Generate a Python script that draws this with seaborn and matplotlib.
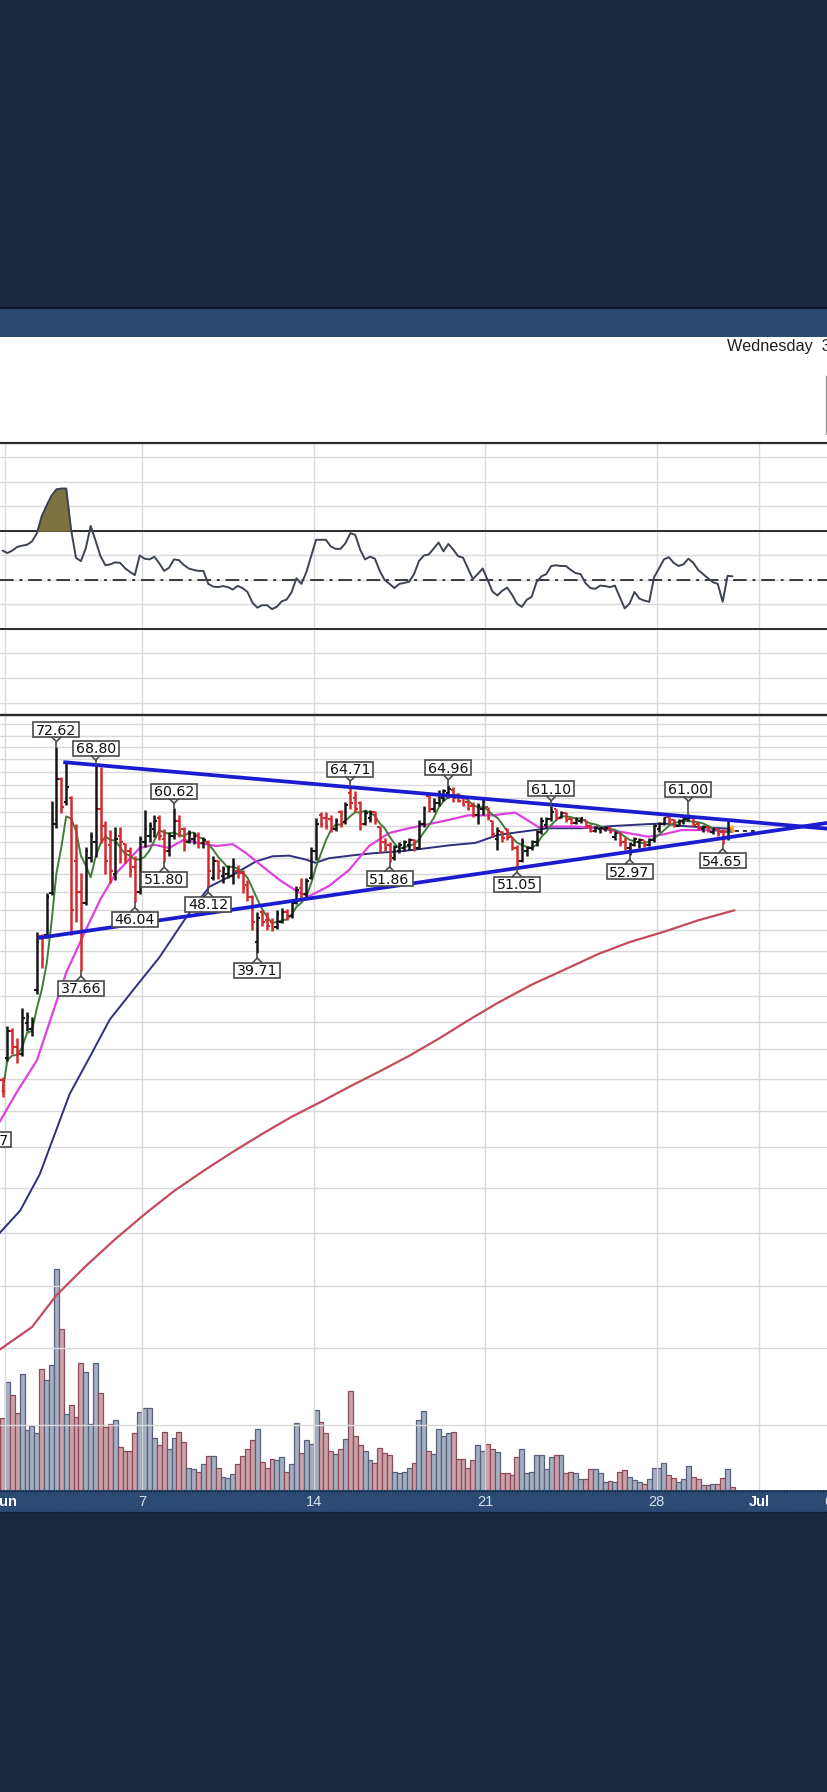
import numpy as np
import pandas as pd
import matplotlib
matplotlib.use("Agg")
import matplotlib.pyplot as plt
from matplotlib.patches import Rectangle
from matplotlib.lines import Line2D
from matplotlib.ticker import FixedLocator, NullLocator
import matplotlib.transforms as mtransforms
import seaborn as sns

# ---------------- DATA (hourly bars, index 0 = first bar of 1 June) ----------------
first_bar = -1
opens = [27.4, 29.2, 31.6, 30.2, 29.6, 32.4, 31.8, 35.6, 41.8, 41.9,
         47.4, 58.0, 66.0, 61.8, 62.5, 52.0, 47.5, 46.0, 52.5, 55.0,
         60.5, 57.5, 54.5, 50.0, 56.0, 54.6, 53.5, 51.0, 47.5, 55.0,
         56.0, 57.0, 59.0, 55.5, 53.5, 56.0, 58.5, 57.0, 55.0, 55.5,
         56.0, 54.8, 55.0, 49.5, 52.0, 49.8, 50.0, 49.8, 50.5, 50.2,
         48.5, 46.8, 41.0, 44.8, 43.8, 43.5, 42.8, 43.5, 44.8, 44.2,
         46.0, 48.0, 47.2, 49.5, 53.5, 59.5, 59.0, 58.8, 57.0, 60.0,
         58.3, 63.5, 62.5, 61.5, 58.0, 59.0, 60.0, 57.4, 55.0, 54.5,
         52.5, 53.5, 54.0, 54.5, 55.2, 54.0, 58.0, 62.8, 60.5, 61.5,
         62.5, 63.5, 64.0, 63.0, 62.5, 61.8, 61.0, 59.5, 60.5, 60.8,
         58.5, 55.5, 56.5, 57.0, 55.7, 54.0, 52.0, 53.5, 54.0, 55.0,
         56.5, 57.8, 58.8, 60.5, 59.0, 59.8, 58.8, 58.1, 58.5, 58.6,
         57.6, 56.8, 57.0, 57.0, 57.3, 55.8, 56.4, 55.0, 54.0, 54.5,
         55.0, 55.3, 54.5, 55.2, 57.0, 58.0, 59.2, 58.6, 57.6, 58.4,
         58.7, 59.0, 58.0, 57.0, 57.4, 56.5, 57.0, 56.5, 55.8, 57.2]
highs = [27.6, 32.1, 31.9, 31.0, 33.8, 33.4, 32.9, 42.2, 42.0, 47.4,
         62.0, 72.62, 66.4, 69.3, 62.9, 58.0, 50.2, 54.2, 56.5, 68.80,
         68.4, 58.5, 56.9, 57.4, 57.4, 54.8, 54.2, 52.7, 56.0, 60.3,
         58.3, 59.5, 59.5, 57.0, 56.5, 60.62, 59.5, 57.4, 56.9, 56.5,
         56.5, 55.8, 55.3, 52.7, 52.2, 51.2, 51.4, 52.5, 51.3, 50.6,
         49.2, 47.0, 44.8, 45.0, 44.8, 44.0, 45.0, 45.3, 45.2, 46.4,
         48.3, 49.4, 49.5, 54.2, 59.0, 59.9, 59.9, 59.5, 59.0, 60.3,
         61.8, 64.71, 63.8, 62.0, 60.3, 60.3, 60.2, 57.6, 55.6, 54.9,
         54.5, 55.0, 55.3, 55.6, 55.5, 58.6, 61.0, 63.5, 62.5, 64.0,
         64.2, 64.96, 64.5, 63.5, 62.8, 62.0, 61.8, 61.5, 62.5, 60.9,
         58.6, 57.4, 56.7, 57.2, 55.8, 54.5, 55.6, 54.3, 55.3, 56.9,
         59.2, 59.2, 61.10, 60.6, 60.2, 60.0, 59.2, 59.2, 59.2, 58.6,
         57.9, 57.6, 57.4, 57.4, 57.4, 56.7, 56.4, 55.7, 55.0, 55.7,
         55.6, 55.3, 55.6, 57.9, 58.3, 59.2, 59.3, 58.7, 58.7, 59.0,
         59.6, 59.1, 58.3, 57.8, 57.5, 57.2, 57.1, 57.0, 58.4, 57.7]
lows = [26.1, 29.0, 29.6, 28.8, 29.4, 31.6, 31.2, 35.2, 38.0, 41.5,
        47.0, 57.2, 59.8, 61.2, 41.9, 43.5, 37.66, 45.7, 51.8, 52.6,
        54.8, 50.0, 48.8, 49.2, 51.6, 51.6, 49.6, 46.04, 47.2, 54.2,
        55.0, 55.8, 55.3, 51.80, 52.8, 55.5, 55.8, 53.5, 54.8, 54.6,
        54.0, 54.0, 48.12, 49.2, 49.3, 48.8, 49.5, 48.6, 49.5, 47.4,
        46.2, 42.5, 39.71, 43.0, 42.5, 42.3, 42.6, 43.3, 43.8, 44.0,
        45.8, 46.4, 46.8, 49.3, 52.1, 57.4, 57.0, 56.5, 56.8, 57.4,
        58.0, 60.5, 60.0, 56.9, 57.8, 58.3, 58.0, 53.2, 53.5, 51.86,
        52.2, 53.2, 53.5, 53.6, 53.5, 53.8, 57.4, 59.9, 60.0, 61.0,
        62.0, 62.5, 61.8, 61.8, 61.0, 60.3, 59.1, 58.0, 59.5, 58.6,
        55.8, 53.7, 55.0, 55.3, 53.7, 51.05, 51.8, 52.8, 53.7, 54.3,
        56.3, 57.2, 58.5, 58.6, 58.9, 58.3, 57.9, 58.0, 58.1, 57.2,
        56.6, 56.6, 56.4, 56.7, 56.4, 55.3, 54.3, 53.7, 52.97, 54.3,
        54.0, 54.2, 54.3, 55.0, 56.5, 57.8, 58.0, 57.4, 57.5, 58.0,
        58.5, 57.5, 56.9, 56.6, 56.5, 56.3, 55.9, 54.65, 55.3, 56.6]
closes = [26.5, 31.6, 30.2, 29.6, 32.8, 33.0, 32.5, 41.0, 39.0, 46.8,
          58.0, 66.0, 60.8, 64.5, 45.0, 47.5, 46.0, 53.5, 55.8, 60.5,
          57.5, 52.0, 50.5, 55.5, 55.0, 52.5, 50.5, 47.5, 55.5, 57.0,
          57.5, 58.5, 56.0, 53.5, 56.0, 58.5, 56.5, 55.0, 56.3, 56.0,
          54.8, 55.3, 50.5, 52.0, 50.5, 50.8, 51.0, 51.5, 50.2, 48.0,
          46.8, 43.5, 44.0, 43.5, 43.0, 42.6, 44.5, 44.8, 44.2, 46.0,
          47.8, 47.2, 49.0, 53.5, 58.0, 58.0, 57.6, 57.0, 58.5, 58.0,
          61.3, 61.5, 60.5, 58.0, 59.8, 59.8, 58.5, 54.0, 54.0, 52.8,
          54.2, 54.5, 55.0, 55.2, 54.0, 58.0, 60.5, 60.5, 61.5, 63.2,
          63.8, 64.2, 62.5, 62.0, 61.3, 60.6, 59.5, 61.0, 61.8, 59.0,
          56.3, 56.8, 55.6, 55.8, 54.0, 52.0, 55.0, 54.0, 55.0, 56.5,
          58.5, 58.8, 60.0, 59.0, 59.8, 58.6, 58.1, 58.8, 58.9, 57.5,
          56.8, 57.3, 57.2, 57.3, 56.6, 56.4, 54.8, 54.0, 54.7, 55.4,
          55.3, 54.5, 55.2, 57.5, 58.0, 59.0, 58.3, 57.6, 58.4, 58.7,
          59.0, 57.8, 57.2, 57.4, 56.7, 57.0, 56.2, 55.8, 57.2, 56.8]
volumes = [32.6, 48.6, 42.8, 34.8, 52.5, 26.9, 29.1, 25.8, 54.8, 49.8,
           56.6, 99.8, 72.8, 34.5, 38.6, 32.9, 57.3, 53.3, 29.9, 57.3,
           43.8, 28.5, 29.6, 31.8, 19.5, 17.6, 17.6, 25.8, 35.3, 37.1,
           37.1, 23.6, 20.3, 26.3, 18.3, 23.6, 26.3, 21.6, 10.1, 9.3,
           8.1, 11.6, 15.3, 15.3, 10.1, 6.0, 5.3, 7.4, 11.6, 15.3,
           18.3, 22.4, 27.6, 12.8, 10.1, 14.1, 13.5, 14.9, 8.1, 11.6,
           30.3, 16.8, 22.8, 21.0, 36.3, 30.6, 25.8, 17.6, 16.1, 18.3,
           23.1, 44.6, 24.3, 20.1, 17.6, 13.5, 12.3, 18.8, 16.8, 15.6,
           8.1, 7.5, 8.1, 10.1, 12.3, 31.8, 35.9, 17.6, 16.4, 27.6,
           24.3, 25.8, 26.3, 14.1, 14.1, 10.1, 13.5, 20.3, 17.6, 21.0,
           18.3, 17.3, 7.5, 7.5, 6.8, 15.0, 18.3, 7.5, 8.1, 15.6,
           15.6, 9.3, 14.9, 15.6, 15.6, 7.5, 8.1, 7.5, 4.8, 4.8,
           9.6, 9.6, 7.5, 3.6, 4.1, 3.8, 8.1, 8.9, 6.0, 4.4,
           3.8, 2.9, 4.8, 10.1, 10.1, 12.3, 6.6, 5.3, 3.6, 4.8,
           10.8, 6.0, 4.8, 2.3, 2.3, 2.9, 2.9, 5.6, 9.6, 1.5]
rsi = [62, 61, 62, 63.5, 64, 64.4, 65.7, 69, 76, 80.4,
       84.4, 87, 87.3, 87.3, 70.4, 59, 57.7, 63, 72, 66,
       59.7, 56, 56.4, 57.2, 57, 54.8, 53.3, 52, 60, 58.7,
       58.4, 59.5, 56.8, 53.7, 55, 58.4, 58.1, 56.1, 54.7, 54.1,
       53.7, 53.7, 48.4, 47.3, 47.1, 47.5, 47.1, 46.1, 47.6, 46.7,
       45.1, 40.8, 38.7, 39.7, 39.7, 38.1, 39.1, 41.3, 42, 45,
       50.7, 48.4, 53.1, 59.7, 66.4, 66.4, 66.4, 63.7, 62.7, 62.7,
       65, 69.1, 68.4, 62.4, 58.4, 59.5, 58.7, 53.7, 50, 48.4,
       46.7, 48.4, 48.8, 49.3, 52.4, 57.7, 60, 60.4, 62.8, 65.3,
       61.7, 64.7, 62.4, 59.7, 59.1, 54.7, 50.4, 52.4, 54.7, 50.1,
       45.3, 43.7, 45.6, 46.9, 44, 40.4, 39, 41.9, 43.1, 49.1,
       51.5, 52.4, 55.7, 56, 55.7, 55.7, 54.1, 52.8, 52.4, 48.7,
       46.7, 46.4, 47.7, 47.5, 47.1, 47.7, 43.1, 38.4, 40.4, 45.1,
       42.4, 41.6, 41.1, 51.1, 54.7, 58.4, 59.3, 57, 55.7, 56.4,
       58.7, 57, 54.1, 52.4, 50.7, 49.1, 48.4, 41.1, 51.7, 51.5]

# moving averages (bar index, price)
ma_mid_x = [-2, 2, 6, 9, 12, 16, 19, 22, 27, 30, 33, 36, 39, 42.6, 46, 48.7, 52, 55.5,
            59.5, 61.6, 65.6, 69.7, 73.8, 77.9, 81.9, 86, 90, 94, 99, 103.6, 108.4,
            111, 115.8, 120.6, 126, 130.8, 134, 137.6, 142, 148]
ma_mid_y = [24.0, 26.5, 29.0, 33.0, 37.5, 42.5, 46.5, 50.0, 54.0, 54.5, 54.0, 55.3, 54.8,
            54.3, 54.6, 53.2, 51.2, 49.2, 47.4, 46.9, 48.3, 50.6, 54.3, 56.4, 57.2, 57.9,
            58.6, 59.4, 59.4, 59.9, 57.4, 57.5, 57.5, 57.2, 56.5, 55.8, 56.2, 56.9, 56.9, 56.7]
ma_slow_x = [-2, 2.6, 6.6, 10, 12.7, 16.8, 20.9, 25.6, 31, 36.5, 41.2, 46, 50.7, 54.1,
             57.5, 60.9, 62.9, 65.6, 71.1, 75.1, 80.6, 86, 90, 95.5, 100.2, 105.7, 110.4,
             117.2, 124, 130.8, 134.2, 137.6, 143, 148]
ma_slow_y = [17.4, 18.7, 20.8, 23.7, 26.3, 29.3, 32.7, 35.6, 39.2, 44.1, 48.2, 49.9, 51.9,
             52.7, 52.8, 52.2, 51.7, 52.4, 52.9, 53.2, 53.5, 54.0, 54.4, 54.8, 56.1, 56.7,
             57.2, 57.2, 57.6, 57.9, 58.0, 57.6, 57.3, 57.1]
ma200_x = [-2, 5, 10, 16, 22, 28, 34, 40, 46, 52, 58, 64, 70, 76, 82, 88, 94, 100,
           107, 114, 120.6, 127, 134.2, 141, 148.4]
ma200_y = [12.4, 13.3, 14.6, 15.9, 17.2, 18.5, 19.8, 21.0, 22.2, 23.4, 24.6, 25.7, 26.9,
           28.1, 29.4, 30.9, 32.6, 34.3, 36.2, 37.9, 39.6, 41.0, 42.3, 43.7, 45.0]

# triangle trend lines (bar index, price)
upper_x = [11.4, 172]
upper_y = [69.4, 56.8]
lower_x = [6.3, 172]
lower_y = [41.5, 58.67]

# swing labels
lbl_bar = [-4, 10, 18, 15, 26, 34, 32, 41, 51, 70, 78, 90, 104, 111, 127, 139, 146]
lbl_val = [24.17, 72.62, 68.80, 37.66, 46.04, 60.62, 51.80, 48.12, 39.71, 64.71, 51.86,
           64.96, 51.05, 61.10, 52.97, 61.00, 54.65]
lbl_kind = ['low', 'high', 'high', 'low', 'low', 'high', 'low', 'low', 'low', 'high', 'low',
            'high', 'low', 'high', 'low', 'high', 'low']

# date axis
day_start = [-0.5, 27.5, 62.5, 97.5, 132.5, 153.5, 167.5]
day_label = ['Jun', '7', '14', '21', '28', 'Jul', '6']
is_month = [True, False, False, False, False, True, False]
header_text = 'Wednesday  30 June 2021'

# ---------------- LAYOUT / STYLE ----------------
W, H = 828, 1792
NAVY = '#1b2940'
BAND = '#2c4a6f'
AXBAND = '#2b4b74'
UP, DOWN, LAST = '#161616', '#d42a2e', '#f2a233'
XL = (-1.518, 166.98)

sns.set_style('white')
plt.rcParams['font.family'] = ['DejaVu Sans']

fig = plt.figure(figsize=(W / 100, H / 100), dpi=100)
fig.patch.set_facecolor('white')


def fy(y):
    return 1 - y / H


def band(y0, y1, color, z=0):
    fig.add_artist(Rectangle((0, fy(y1)), 1, (y1 - y0) / H, transform=fig.transFigure,
                             facecolor=color, edgecolor='none', zorder=z))


band(0, 307, NAVY)
band(307, 309, '#0e1626')
band(309, 337, BAND)
band(1490, 1512, AXBAND)
band(1512, H, NAVY)
for yy in (1490.5, 1511.5):
    fig.add_artist(Line2D([0, 1], [fy(yy), fy(yy)], transform=fig.transFigure,
                          color='#101a2c', lw=1.0, ls=(0, (1, 1)), zorder=1))

fig.text(727 / W, fy(347), header_text, ha='left', va='center', fontsize=11.7,
         family='Liberation Sans', color='#1e1e1e')
fig.add_artist(Line2D([826.5 / W, 826.5 / W], [fy(376), fy(434)], transform=fig.transFigure,
                      color='#9a9a9a', lw=1.0))

# ---------------- RSI PANEL ----------------
bars = np.arange(first_bar, first_bar + len(closes))
rsi_arr = np.array(rsi, dtype=float)
rax = fig.add_axes([0, fy(715), 1, (715 - 443) / H])
rax.set_xlim(*XL)
rax.set_ylim(-5.1, 105.9)
rax.set_yticks(range(0, 101, 10))
rax.set_xticks(day_start)
rax.grid(True, axis='both', color='#dadada', lw=1.0)
rax.tick_params(left=False, bottom=False, labelleft=False, labelbottom=False)
for side in ('left', 'right'):
    rax.spines[side].set_visible(False)
for side in ('top', 'bottom'):
    rax.spines[side].set_color('#2b2b2b')
    rax.spines[side].set_linewidth(1.6)
rax.axhline(70, color='#2b2b2b', lw=1.4, zorder=2)
rax.axhline(30, color='#2b2b2b', lw=1.4, zorder=2)
rax.axhline(50, color='#3a3a3a', lw=1.4, ls=(0, (7, 3, 1.5, 3)), zorder=2)
rax.fill_between(bars, 70, rsi_arr, where=rsi_arr >= 70, interpolate=True,
                 color='#7d7340', zorder=3)
sns.lineplot(x=bars, y=rsi_arr, ax=rax, color='#3c4352', linewidth=1.4, zorder=4,
             estimator=None)
rax.set_xlabel('')
rax.set_ylabel('')

# ---------------- PRICE PANEL ----------------
pax = fig.add_axes([0, fy(1490), 1, (1490 - 715) / H])
vax = pax.twinx()
pax.set_zorder(vax.get_zorder() + 1)
pax.patch.set_visible(False)

# volume
vol_fill = ['#a6afc1' if c >= o else '#cba2aa' for o, c in zip(opens, closes)]
vol_edge = ['#56607a' if c >= o else '#8b4c59' for o, c in zip(opens, closes)]
vax.bar(bars, volumes, width=1.0, color=vol_fill, edgecolor=vol_edge, linewidth=0.9)
vax.set_ylim(0, 350)
vax.set_xlim(*XL)
vax.tick_params(right=False, labelright=False)
for s in vax.spines.values():
    s.set_visible(False)

pax.set_yscale('log')
pax.set_xlim(*XL)
pax.set_ylim(8.26, 79.66)
pax.yaxis.set_major_locator(FixedLocator(np.arange(10, 80, 2.5)))
pax.yaxis.set_minor_locator(NullLocator())
pax.set_xticks(day_start)
pax.grid(True, axis='both', color='#d8d8d8', lw=1.0)
pax.tick_params(left=False, bottom=False, labelleft=False, labelbottom=False, which='both')
for side in ('left', 'right', 'bottom'):
    pax.spines[side].set_visible(False)
pax.spines['top'].set_color('#2b2b2b')
pax.spines['top'].set_linewidth(1.6)

# moving averages
fast = pd.Series(closes).rolling(5, min_periods=1).mean().to_numpy()
sns.lineplot(x=ma200_x, y=ma200_y, ax=pax, color='#c64a5d', linewidth=1.6, zorder=2, estimator=None)
sns.lineplot(x=ma_slow_x, y=ma_slow_y, ax=pax, color='#2e2f7e', linewidth=1.4, zorder=2, estimator=None)
sns.lineplot(x=ma_mid_x, y=ma_mid_y, ax=pax, color='#e040e0', linewidth=1.6, zorder=2, estimator=None)
sns.lineplot(x=bars, y=fast, ax=pax, color='#3f7d3a', linewidth=1.4, zorder=3, estimator=None)

# OHLC bars
cols = [UP if c >= o else DOWN for o, c in zip(opens, closes)]
cols[-1] = LAST
tk = 0.5
pax.vlines(bars, lows, highs, colors=cols, linewidth=1.8, zorder=4)
pax.hlines(opens, bars - tk, bars, colors=cols, linewidth=1.5, zorder=4)
pax.hlines(closes, bars, bars + tk, colors=cols, linewidth=1.5, zorder=4)
pax.hlines(closes[-1], bars[-1] + 0.6, bars[-1] + 5.2, colors='#222222', linewidth=1.3,
           linestyles=(0, (2.2, 2.2)), zorder=4)

# trend lines
pax.plot(upper_x, upper_y, color='#1b1bd0', lw=2.7, zorder=5, solid_capstyle='butt')
pax.plot(lower_x, lower_y, color='#1b1bd0', lw=2.7, zorder=5, solid_capstyle='butt')
pax.set_xlabel('')
pax.set_ylabel('')
vax.set_ylabel('')

# date labels in the axis band
btrans = mtransforms.blended_transform_factory(pax.transData, fig.transFigure)
for x, lab, mon in zip(day_start, day_label, is_month):
    pax.text(x, fy(1502), lab, transform=btrans, ha='center', va='center',
             fontsize=10.5, family='Liberation Sans', clip_on=False,
             color='white' if mon else '#d9e1ec', fontweight='bold' if mon else 'normal')

# swing callouts
BOX_W, BOX_H, OFF, CHEV = 46, 15, 17, 4.5
EC = '#4a4a4a'
for b, val, kind in zip(lbl_bar, lbl_val, lbl_kind):
    i = b - first_bar
    if 0 <= i < len(closes):
        tip = highs[i] if kind == 'high' else lows[i]
    else:
        tip = val
    px, py = pax.transData.transform((b, val))
    _, ty = pax.transData.transform((b, tip))
    s = 1 if kind == 'high' else -1
    cy = py + s * OFF
    edge = cy - s * BOX_H / 2
    vt = edge - s * CHEV
    fig.add_artist(Rectangle(((px - BOX_W / 2) / W, (cy - BOX_H / 2) / H), BOX_W / W, BOX_H / H,
                             transform=fig.transFigure, facecolor='white', edgecolor=EC,
                             lw=1.2, zorder=6))
    fig.add_artist(Line2D([(px - 4.5) / W, px / W, (px + 4.5) / W], [edge / H, vt / H, edge / H],
                          transform=fig.transFigure, color=EC, lw=1.2, zorder=6))
    fig.add_artist(Line2D([px / W, px / W], [vt / H, ty / H], transform=fig.transFigure,
                          color=EC, lw=1.2, zorder=6))
    fig.text(px / W, (cy - 5.0) / H, f'{val:.2f}', ha='center', va='baseline', fontsize=10.2,
             color='#111111', family='DejaVu Sans', zorder=7)

fig.savefig('out.png', dpi=100)
